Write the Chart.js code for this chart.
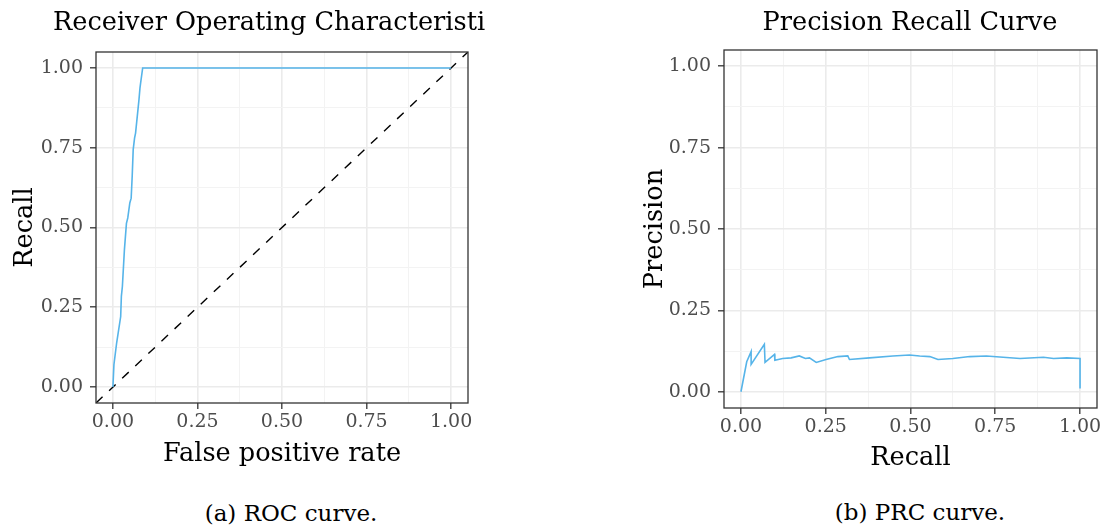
<!DOCTYPE html>
<html>
<head>
<meta charset="utf-8">
<script src="https://cdn.jsdelivr.net/npm/chart.js@4.4.1/dist/chart.umd.min.js"></script>
<style>
  body { margin: 0; background: #fff; width: 1106px; height: 532px; position: relative; overflow: hidden; font-family: "DejaVu Serif", serif; }
  canvas { position: absolute; top: 0; }
  .ttl { position: absolute; top: 9px; font-size: 25.6px; line-height: 25.6px; color: #000; white-space: nowrap; }
  .cap { position: absolute; font-size: 23px; line-height: 23px; color: #000; white-space: nowrap; transform: translateX(-50%); }
</style>
</head>
<body>
<canvas id="roc" width="553" height="480" style="left:0"></canvas>
<canvas id="prc" width="553" height="480" style="left:553px"></canvas>
<div class="ttl" style="left:53px">Receiver Operating Characteristi</div>
<div class="ttl" style="left:910px; transform: translateX(-50%)">Precision Recall Curve</div>
<div class="cap" style="left:291px; top:502px">(a) ROC curve.</div>
<div class="cap" style="left:920px; top:500.5px">(b) PRC curve.</div>
<script>
// ROC curve values
const rocFpr = [0, 0.003, 0.011, 0.023, 0.025, 0.028, 0.034, 0.040, 0.044, 0.050, 0.054, 0.057, 0.060, 0.064, 0.067, 0.077, 0.080, 0.082, 0.088, 1.0];
const rocTpr = [0, 0.070, 0.138, 0.221, 0.284, 0.315, 0.430, 0.513, 0.530, 0.577, 0.592, 0.660, 0.744, 0.780, 0.796, 0.900, 0.937, 0.953, 1.0, 1.0];
// reference diagonal y = x across the panel
const diagX = [-0.05, 1.05];

// precision / recall values
const prcRecall = [0, 0.017, 0.030, 0.030, 0.069, 0.071, 0.099, 0.100, 0.123, 0.148, 0.172, 0.190, 0.202, 0.222, 0.251, 0.286, 0.315, 0.320, 0.379, 0.448, 0.497, 0.527, 0.557, 0.581, 0.625, 0.675, 0.724, 0.773, 0.823, 0.892, 0.922, 0.961, 1.0, 1.0];
const prcPrecision = [0, 0.092, 0.123, 0.084, 0.146, 0.090, 0.115, 0.097, 0.102, 0.104, 0.110, 0.102, 0.104, 0.090, 0.099, 0.108, 0.110, 0.099, 0.104, 0.110, 0.113, 0.110, 0.108, 0.099, 0.102, 0.108, 0.110, 0.106, 0.102, 0.106, 0.102, 0.104, 0.102, 0.010];

const majorTicks = [0, 0.25, 0.5, 0.75, 1];
const majorLabels = ['0.00', '0.25', '0.50', '0.75', '1.00'];
const minorTicks = [0.125, 0.375, 0.625, 0.875];

const lineBlue = '#56B4E9';
const tickFont = { family: 'DejaVu Serif', size: 19 };
const titleFont = { family: 'DejaVu Serif', size: 25.6 };

const toPoints = (xs, ys) => xs.map((x, i) => ({ x: x, y: ys[i] }));

// ggplot-like panel border on all four sides
const panelBorder = {
  id: 'panelBorder',
  afterDraw(chart) {
    const { ctx, chartArea: a } = chart;
    ctx.save();
    ctx.strokeStyle = '#333333';
    ctx.lineWidth = 1.3;
    ctx.strokeRect(a.left, a.top, a.right - a.left, a.bottom - a.top);
    ctx.restore();
  }
};

function makeAxis(title, size, titlePad, horizontal) {
  return {
    type: 'linear',
    bounds: 'data',
    min: -0.05,
    max: 1.05,
    afterBuildTicks: scale => {
      scale.ticks = majorTicks.concat(minorTicks).sort((a, b) => a - b).map(v => ({ value: v }));
    },
    afterFit: scale => {
      if (horizontal) scale.height = size; else scale.width = size;
      scale.paddingLeft = 0; scale.paddingRight = 0;
      scale.paddingTop = 0; scale.paddingBottom = 0;
    },
    ticks: {
      font: tickFont,
      color: '#4d4d4d',
      padding: horizontal ? 2 : 7,
      maxRotation: 0,
      autoSkip: false,
      callback: v => {
        const i = majorTicks.indexOf(v);
        return i >= 0 ? majorLabels[i] : '';
      }
    },
    grid: {
      drawTicks: true,
      tickLength: 6,
      color: c => majorTicks.includes(c.tick.value) ? '#ebebeb' : '#f3f3f3',
      lineWidth: c => majorTicks.includes(c.tick.value) ? 1.6 : 1,
      tickColor: c => majorTicks.includes(c.tick.value) ? '#333333' : 'rgba(0,0,0,0)',
      tickWidth: 1.3
    },
    border: { display: false },
    title: {
      display: true,
      text: title,
      font: titleFont,
      color: '#000',
      padding: horizontal ? { top: 0, bottom: titlePad } : { top: titlePad, bottom: 0 }
    }
  };
}

function baseOptions(padding, xAxis, yAxis) {
  return {
    responsive: false,
    animation: false,
    devicePixelRatio: 1,
    layout: { padding: padding },
    plugins: { legend: { display: false }, tooltip: { enabled: false } },
    scales: { x: xAxis, y: yAxis }
  };
}

new Chart(document.getElementById('roc').getContext('2d'), {
  type: 'scatter',
  data: {
    datasets: [
      {
        label: 'ROC',
        data: toPoints(rocFpr, rocTpr),
        showLine: true,
        borderColor: lineBlue,
        borderWidth: 1.6,
        pointRadius: 0,
        tension: 0
      },
      {
        label: 'chance',
        data: toPoints(diagX, diagX),
        showLine: true,
        borderColor: '#000000',
        borderWidth: 1.4,
        borderDash: [9, 9],
        pointRadius: 0
      }
    ]
  },
  options: baseOptions(
    { left: 0, right: 85, top: 52, bottom: 10 },
    makeAxis('False positive rate', 67, 0, true),
    makeAxis('Recall', 96, 10, false)
  ),
  plugins: [panelBorder]
});

new Chart(document.getElementById('prc').getContext('2d'), {
  type: 'scatter',
  data: {
    datasets: [{
      label: 'PRC',
      data: toPoints(prcRecall, prcPrecision),
      showLine: true,
      borderColor: lineBlue,
      borderWidth: 1.6,
      pointRadius: 0,
      tension: 0
    }]
  },
  options: baseOptions(
    { left: 0, right: 9, top: 50, bottom: 6 },
    makeAxis('Recall', 66, 0, true),
    makeAxis('Precision', 171, 87, false)
  ),
  plugins: [panelBorder]
});
</script>
</body>
</html>
